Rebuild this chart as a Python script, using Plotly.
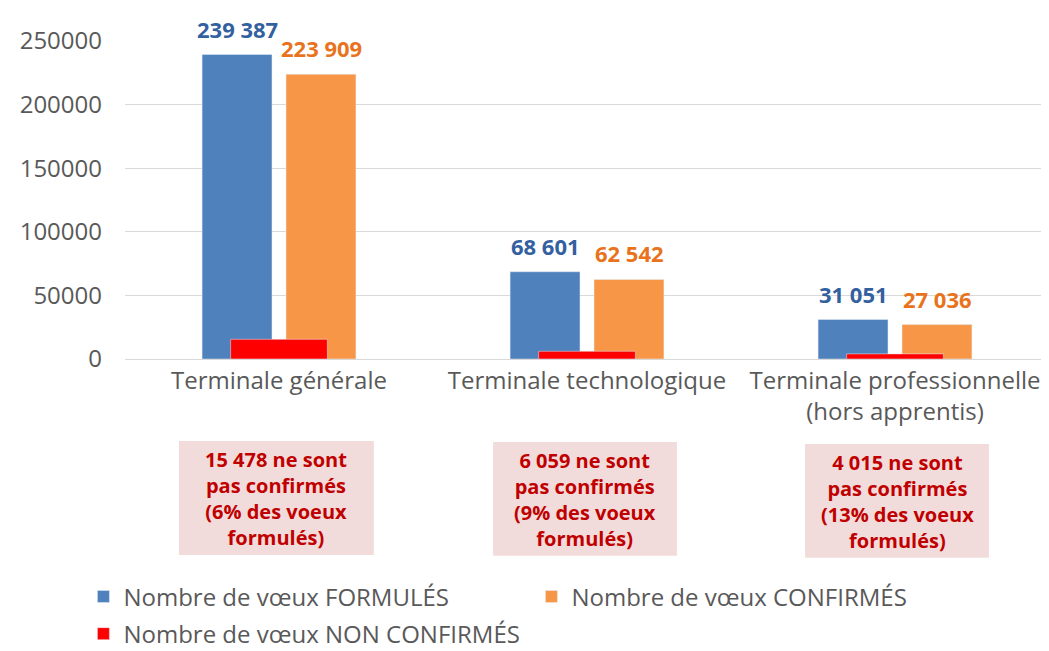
import plotly.graph_objects as go

categories = ["Terminale générale", "Terminale technologique", "Terminale professionnelle<br>(hors apprentis)"]
formules = [239387, 68601, 31051]
confirmes = [223909, 62542, 27036]
non_confirmes = [15478, 6059, 4015]
box_texts = [
    "15 478 ne sont<br>pas confirmés<br>(6% des voeux<br>formulés)",
    "6 059 ne sont<br>pas confirmés<br>(9% des voeux<br>formulés)",
    "4 015 ne sont<br>pas confirmés<br>(13% des voeux<br>formulés)",
]
y_ticks = [0, 50000, 100000, 150000, 200000, 250000]

FONT = "Open Sans"
BLUE, ORANGE, RED = "#4F81BD", "#F79646", "#FF0000"

def fmt(v):
    return f"{v:,}".replace(",", " ")

fig = go.Figure()
fig.add_bar(x=categories, y=formules, name="Nombre de vœux FORMULÉS", marker_color=BLUE, legend="legend")
fig.add_bar(x=categories, y=confirmes, name="Nombre de vœux CONFIRMÉS", marker_color=ORANGE, legend="legend")
fig.add_bar(x=categories, y=non_confirmes, name="Nombre de vœux NON CONFIRMÉS", marker_color=RED,
            offset=-0.157, width=0.314, legend="legend2")

# text boxes below the axis (positions relative to each category, in axis / paper units)
box_x = [(-0.325, 0.308), (-0.305, 0.292), (-0.292, 0.305)]
box_top = [-0.258, -0.261, -0.267]
box_h = 0.358

annotations = []
shapes = []
for i, c in enumerate(categories):
    annotations.append(dict(x=c, y=formules[i], text=f"<b>{fmt(formules[i])}</b>", showarrow=False,
                            xshift=-42, yshift=26, yanchor="middle",
                            font=dict(family=FONT, size=22, color="#33609F")))
    annotations.append(dict(x=c, y=confirmes[i], text=f"<b>{fmt(confirmes[i])}</b>", showarrow=False,
                            xshift=42, yshift=26, yanchor="middle",
                            font=dict(family=FONT, size=22, color="#E8731C")))
    x0, x1 = i + box_x[i][0], i + box_x[i][1]
    shapes.append(dict(type="rect", xref="x", yref="paper", x0=x0, x1=x1,
                       y0=box_top[i] - box_h, y1=box_top[i],
                       fillcolor="#F2DCDB", line=dict(width=0), layer="below"))
    annotations.append(dict(x=(x0 + x1) / 2, xref="x", y=box_top[i] - box_h / 2 - 0.003,
                            yref="paper", text=f"<b>{box_texts[i]}</b>", showarrow=False,
                            xanchor="center", yanchor="middle", align="center",
                            font=dict(family=FONT, size=20, color="#C00000")))

legend_font = dict(family=FONT, size=24, color="#595959")
fig.update_layout(
    width=1041, height=643,
    margin=dict(l=117, r=0, t=33, b=292, autoexpand=False),
    plot_bgcolor="white", paper_bgcolor="white",
    barmode="group", bargap=0.455, bargroupgap=0.167,
    font=dict(family=FONT, color="#595959", size=24),
    showlegend=True,
    legend=dict(orientation="h", x=-0.045, y=-0.748, xanchor="left", yanchor="middle",
                entrywidth=403, font=legend_font, itemwidth=30, bgcolor="rgba(0,0,0,0)"),
    legend2=dict(orientation="h", x=-0.045, y=-0.865, xanchor="left", yanchor="middle",
                 font=legend_font, itemwidth=30, bgcolor="rgba(0,0,0,0)"),
    annotations=annotations,
    shapes=shapes,
)
fig.update_xaxes(showgrid=False, showline=True, linecolor="#D9D9D9", linewidth=1, automargin=False,
                 tickfont=dict(family=FONT, size=24, color="#595959"), ticks="")
fig.update_yaxes(range=[0, 250000], tickvals=y_ticks, ticktext=[str(v) for v in y_ticks],
                 showgrid=True, gridcolor="#D9D9D9", gridwidth=1, zeroline=False,
                 ticklabelstandoff=22, automargin=False,
                 tickfont=dict(family=FONT, size=24, color="#595959"))

fig.write_html("out.html")
